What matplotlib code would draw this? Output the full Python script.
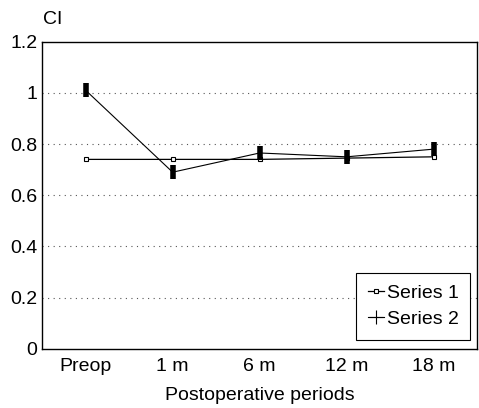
import numpy as np
import matplotlib
matplotlib.use('Agg')
import matplotlib.pyplot as plt
from matplotlib.lines import Line2D

### Data
periods = ['Preop', '1 m', '6 m', '12 m', '18 m']
series1 = [0.74, 0.74, 0.74, 0.745, 0.75]
series2 = [1.01, 0.69, 0.765, 0.75, 0.78]
yticks = [0, 0.2, 0.4, 0.6, 0.8, 1.0, 1.2]
ytick_labels = ['0', '0.2', '0.4', '0.6', '0.8', '1', '1.2']

plt.rcParams['font.family'] = ['Liberation Sans', 'DejaVu Sans']

### Figure
fig = plt.figure(figsize=(4.79, 4.08), dpi=100)
ax = fig.add_axes([0.088, 0.145, 0.908, 0.753])

x = np.arange(len(periods))

### Grid lines (dotted, inside only)
for yv in yticks[1:-1]:
    ax.axhline(yv, color='#555555', linestyle=(0, (1, 4)), linewidth=0.8, zorder=1)

### Series
ax.plot(x, series1, color='black', linewidth=0.9, marker='s', markersize=2.5,
        markerfacecolor='white', markeredgewidth=0.8, zorder=3)
ax.plot(x, series2, color='black', linewidth=0.8, marker='|', markersize=10,
        markeredgewidth=4, zorder=4)

ax.set_xlim(-0.5, len(periods) - 0.5)
ax.set_ylim(0, 1.2)
ax.set_xticks(x)
ax.set_xticklabels(periods)
ax.set_yticks(yticks)
ax.set_yticklabels(ytick_labels)
ax.tick_params(length=0, labelsize=14)
ax.tick_params(axis='x', pad=6.5)
ax.tick_params(axis='y', pad=3.5)
for sp in ax.spines.values():
    sp.set_linewidth(1.0)

ax.set_xlabel('Postoperative periods', fontsize=14, labelpad=9)
fig.text(0.09, 0.951, 'CI', fontsize=14, ha='left', va='center')

### Legend
handles = [Line2D([], [], color='black', linewidth=0.9, marker='s', markersize=2.5,
                  markerfacecolor='white', markeredgewidth=0.8),
           Line2D([], [], color='black', linewidth=0.8, marker='+', markersize=10,
                  markeredgewidth=0.8)]
leg = ax.legend(handles, ['Series 1', 'Series 2'], loc='lower right',
                bbox_to_anchor=(0.984, 0.029), borderaxespad=0, fontsize=14,
                handlelength=0.8, handletextpad=0.15, labelspacing=0.45,
                borderpad=0.6, fancybox=False, framealpha=1, edgecolor='black')
leg.get_frame().set_linewidth(0.8)

plt.savefig('out.png', dpi=100)
plt.close(fig)
